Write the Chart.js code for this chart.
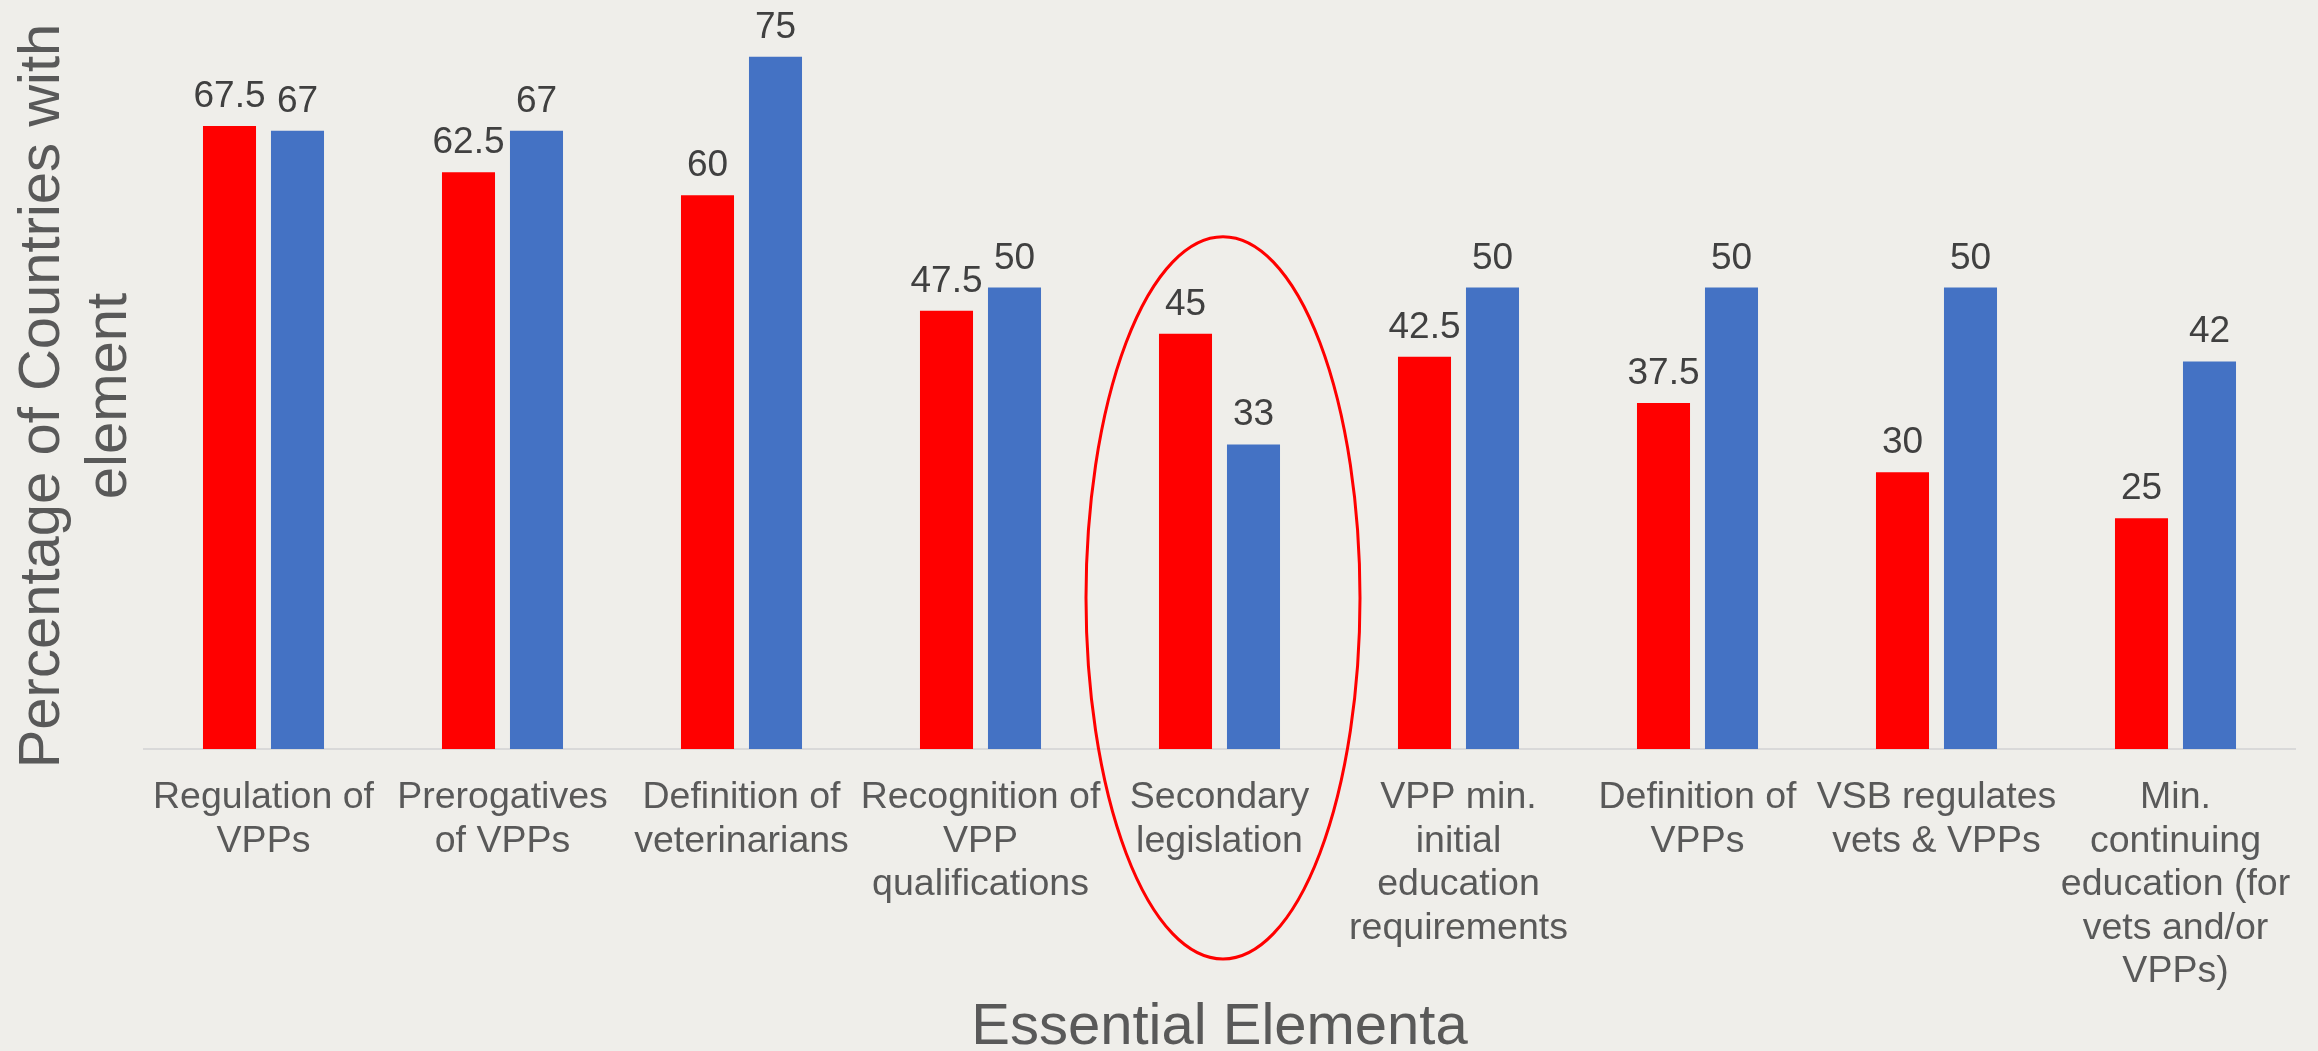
<!DOCTYPE html>
<html>
<head>
<meta charset="utf-8">
<script src="https://cdn.jsdelivr.net/npm/chart.js@4.4.1/dist/chart.umd.min.js"></script>
<style>
  html, body { margin: 0; padding: 0; background: #efeeea; }
  #wrap { width: 2318px; height: 1051px; }
</style>
</head>
<body>
<div id="wrap"><canvas id="c" width="2318" height="1051"></canvas></div>
<script>
const categories = [
  ["Regulation of", "VPPs"],
  ["Prerogatives", "of VPPs"],
  ["Definition of", "veterinarians"],
  ["Recognition of", "VPP", "qualifications"],
  ["Secondary", "legislation"],
  ["VPP min.", "initial", "education", "requirements"],
  ["Definition of", "VPPs"],
  ["VSB regulates", "vets & VPPs"],
  ["Min.", "continuing", "education (for", "vets and/or", "VPPs)"]
];
const redValues  = [67.5, 62.5, 60, 47.5, 45, 42.5, 37.5, 30, 25];
const blueValues = [67, 67, 75, 50, 33, 50, 50, 50, 42];
const yTitle = ["Percentage of Countries with", "element"];
const xTitle = "Essential Elementa";
const highlightedCategory = 4;

const FONT = "'Liberation Sans', Arial, Helvetica, sans-serif";

const bgPlugin = {
  id: 'bg',
  beforeDraw(chart) {
    const ctx = chart.ctx;
    ctx.save();
    ctx.fillStyle = '#efeeea';
    ctx.fillRect(0, 0, chart.width, chart.height);
    ctx.restore();
  }
};

const valueLabels = {
  id: 'valueLabels',
  afterDatasetsDraw(chart) {
    const ctx = chart.ctx;
    ctx.save();
    ctx.font = "37px " + FONT;
    ctx.fillStyle = '#404040';
    ctx.textAlign = 'center';
    ctx.textBaseline = 'alphabetic';
    chart.data.datasets.forEach((ds, di) => {
      const meta = chart.getDatasetMeta(di);
      meta.data.forEach((bar, i) => {
        ctx.fillText(String(ds.data[i]), bar.x, bar.y - 19);
      });
    });
    ctx.restore();
  }
};

const ellipsePlugin = {
  id: 'highlightEllipse',
  afterDatasetsDraw(chart) {
    const xs = chart.scales.x, ys = chart.scales.y;
    const cx = xs.getPixelForValue(highlightedCategory) + 3.5;
    const top = ys.getPixelForValue(55.5);
    const bottom = chart.chartArea.bottom + 210;
    const cy = (top + bottom) / 2;
    const ry = (bottom - top) / 2;
    const rx = 137;
    const ctx = chart.ctx;
    ctx.save();
    ctx.strokeStyle = '#ff0000';
    ctx.lineWidth = 3;
    ctx.beginPath();
    ctx.ellipse(cx, cy, rx, ry, 0, 0, Math.PI * 2);
    ctx.stroke();
    ctx.restore();
  }
};

new Chart(document.getElementById('c'), {
  type: 'bar',
  data: {
    labels: categories,
    datasets: [
      { label: 'Series A', data: redValues, backgroundColor: '#ff0000', borderWidth: 0,
        categoryPercentage: 0.569, barPercentage: 0.78 },
      { label: 'Series B', data: blueValues, backgroundColor: '#4472c4', borderWidth: 0,
        categoryPercentage: 0.569, barPercentage: 0.78 }
    ]
  },
  options: {
    responsive: false,
    animation: false,
    devicePixelRatio: 1,
    layout: { padding: { top: 43, right: 23, left: 0, bottom: 0 } },
    plugins: {
      legend: { display: false },
      tooltip: { enabled: false },
      title: { display: false }
    },
    scales: {
      x: {
        grid: { display: false },
        border: { display: true, color: '#d9d9d9', width: 2 },
        ticks: {
          color: '#595959',
          font: { family: FONT, size: 37.5, lineHeight: 1.16 },
          padding: 19,
          maxRotation: 0,
          minRotation: 0,
          autoSkip: false
        },
        title: {
          display: true,
          text: xTitle,
          color: '#595959',
          font: { family: FONT, size: 58, lineHeight: 0.8 },
          padding: 0
        },
        afterFit(s) { s.height = 302; }
      },
      y: {
        min: 0,
        max: 76.5,
        grid: { display: false },
        border: { display: false },
        ticks: { display: false },
        title: {
          display: true,
          text: yTitle,
          color: '#595959',
          font: { family: FONT, size: 58, lineHeight: 1.15 },
          padding: { top: 10, bottom: 0 }
        },
        afterFit(s) { s.width = 144; }
      }
    }
  },
  plugins: [bgPlugin, valueLabels, ellipsePlugin]
});
</script>
</body>
</html>
